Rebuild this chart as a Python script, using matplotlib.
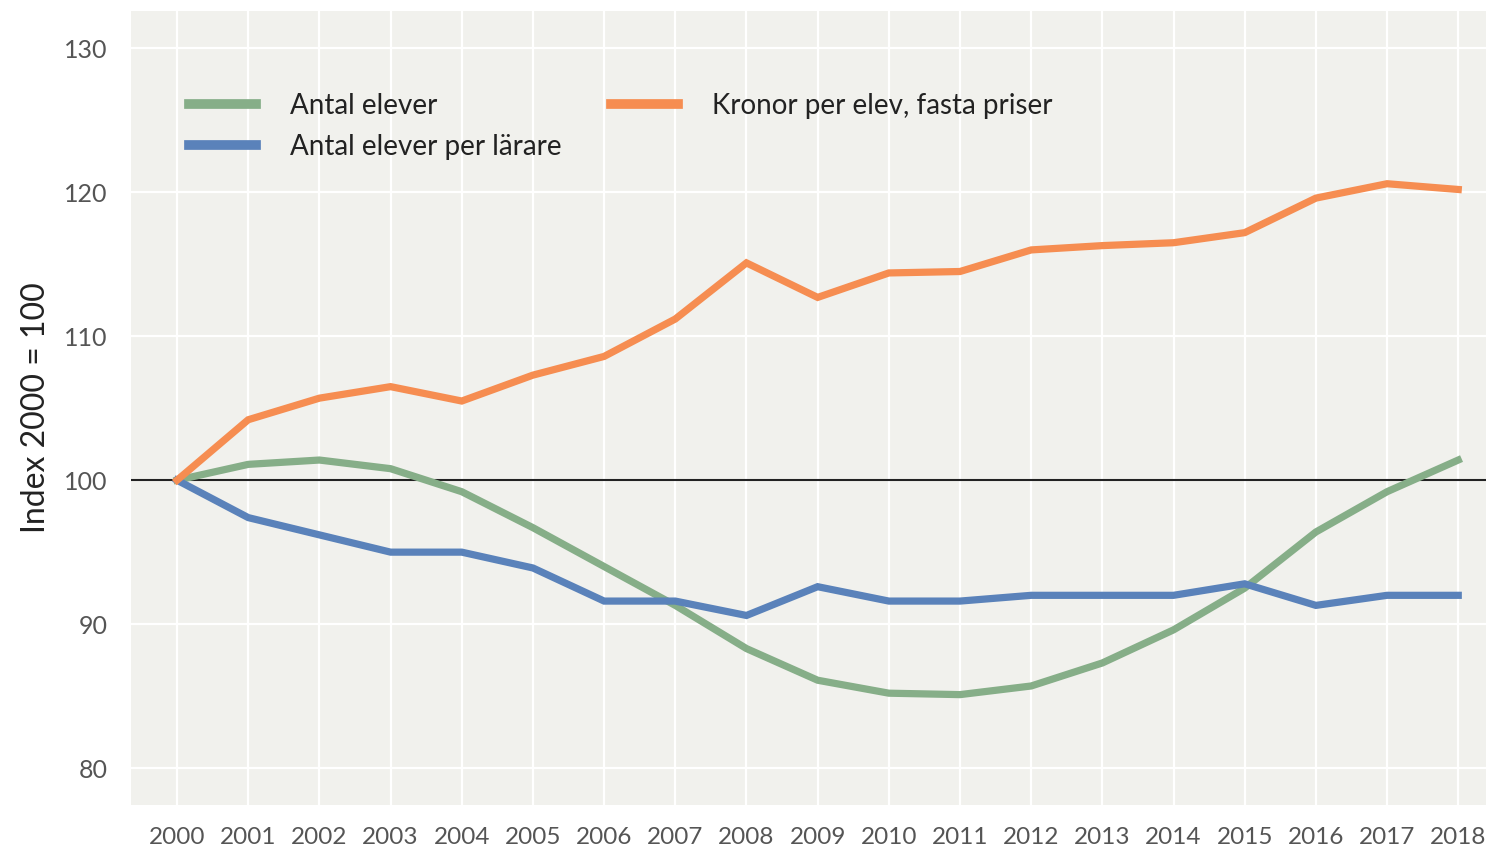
import matplotlib.pyplot as plt

# --- Data (index, 2000 = 100) ---
years = list(range(2000, 2019))

antal_elever = [100.0, 101.1, 101.4, 100.8, 99.2, 96.7, 94.0, 91.3, 88.3, 86.1,
                85.2, 85.1, 85.7, 87.3, 89.6, 92.5, 96.4, 99.2, 101.4]

elever_per_larare = [100.0, 97.4, 96.2, 95.0, 95.0, 93.9, 91.6, 91.6, 90.6, 92.6,
                     91.6, 91.6, 92.0, 92.0, 92.0, 92.8, 91.3, 92.0, 92.0]

kronor_per_elev = [100.0, 104.2, 105.7, 106.5, 105.5, 107.3, 108.6, 111.2, 115.1, 112.7,
                   114.4, 114.5, 116.0, 116.3, 116.5, 117.2, 119.6, 120.6, 120.2]

y_ticks = [80, 90, 100, 110, 120, 130]

plt.rcParams['font.family'] = ['Lato', 'DejaVu Sans']

fig = plt.figure(figsize=(14.86, 8.48), dpi=100)
ax = fig.add_axes([0.0882, 0.0507, 0.9118, 0.9363])
ax.set_facecolor('#f1f1ed')

ax.set_xlim(1999.354, 2018.39)
ax.set_ylim(77.43, 132.6)

ax.set_xticks(years)
ax.set_yticks(y_ticks)
ax.grid(True, color='white', linewidth=1.6)
ax.set_axisbelow(True)

for s in ax.spines.values():
    s.set_visible(False)

ax.tick_params(axis='both', length=0, colors='#555555')
ax.tick_params(axis='y', labelsize=18, pad=17)
ax.tick_params(axis='x', labelsize=17.5, pad=16)

ax.axhline(100, color='#222222', linewidth=1.5, zorder=2)

ax.plot(years, antal_elever, color='#86ae88', linewidth=5.2, label='Antal elever',
        solid_joinstyle='miter', zorder=3)
ax.plot(years, elever_per_larare, color='#5a82ba', linewidth=5.2, label='Antal elever per lärare',
        solid_joinstyle='miter', zorder=3)
ax.plot(years, kronor_per_elev, color='#f68d51', linewidth=5.2, label='Kronor per elev, fasta priser',
        solid_joinstyle='miter', zorder=4)

ax.set_ylabel('Index 2000 = 100', fontsize=23, color='#222222', labelpad=9)

leg = ax.legend(loc='upper left', bbox_to_anchor=(0.0346, 0.911), ncol=2, frameon=False,
                fontsize=20, handlelength=2.4, handletextpad=1.22, columnspacing=1.8,
                labelspacing=0.55, borderaxespad=0)
for t in leg.get_texts():
    t.set_color('#222222')
for h in leg.get_lines():
    h.set_linewidth(7)

fig.savefig('out.png', dpi=100)
